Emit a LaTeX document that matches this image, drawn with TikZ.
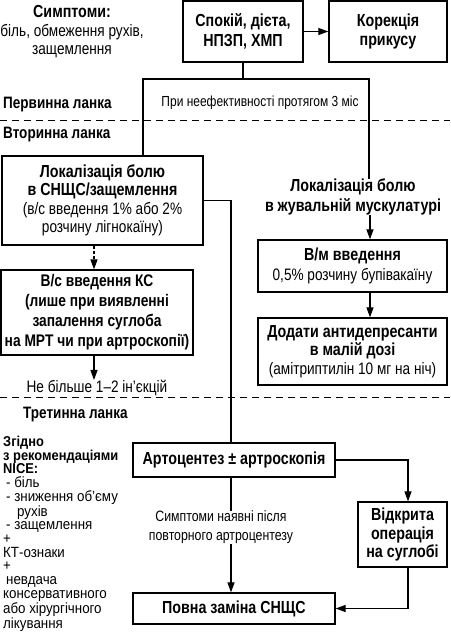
\documentclass[tikz,border=0pt]{standalone}
\usepackage{fontspec}
\setmainfont{Liberation Sans}[FakeStretch=0.82]
\newfontfamily\wfont{Liberation Sans}[FakeStretch=0.9]
\usetikzlibrary{arrows.meta}
\newcommand{\bl}{\fontsize{17.4}{19}\selectfont\bfseries}
\newcommand{\bs}{\fontsize{16.8}{19}\selectfont\bfseries}
\newcommand{\rg}{\fontsize{16.6}{18}\selectfont}
\begin{document}
\begin{tikzpicture}[x=1pt,y=-1pt,
  box/.style={draw, line width=1.3pt, inner sep=0pt, align=center},
  conn/.style={line width=1.2pt},
  arr/.style={conn, -{Triangle[length=10pt,width=7pt]}},
  sep/.style={line width=0.9pt, dash pattern=on 7pt off 5pt},
  lbl/.style={inner sep=0pt, font=\fontsize{16.5}{18}\selectfont\bfseries, anchor=west},
  txt/.style={inner sep=0pt, align=center}
]
\useasboundingbox (0,0) rectangle (450,632);

% separators
\draw[sep] (0,120) -- (450,120);
\draw[sep] (0,397) -- (450,397);

% level labels
\node[lbl] (lv1) at (3,105) {Первинна ланка};
\node[lbl] (lv2) at (3,135) {Вторинна ланка};
\node[lbl] (lv3) at (23,415) {Третинна ланка};

% symptoms
\node[txt, font=\fontsize{16.6}{18.5}\selectfont] (sym) at (72,32) {{\bl Симптоми:}\\\rg біль, обмеження рухів,\\\rg защемлення};

% boxes
\node[box, minimum width=120pt, minimum height=61pt, font=\fontsize{17.4}{20}\selectfont] (b1) at (243,31.5) {\bl Спокій, дієта,\\\bl НПЗП, ХМП};
\node[box, minimum width=118pt, minimum height=61pt, font=\fontsize{17.4}{20}\selectfont] (b2) at (388,31.5) {\bl Корекція\\\bl прикусу};

\node[txt, font=\fontsize{14.6}{16}\selectfont] (cond) at (260,103) {При неефективності протягом 3 міс};

\node[box, minimum width=201pt, minimum height=89pt, font=\fontsize{16.6}{18.5}\selectfont] (b3) at (102.5,200.5)
  {\bl Локалізація болю\\\bl в СНЩС/защемлення\\\rg (в/с введення 1\% або 2\%\\\rg розчину лігнокаїну)};

\node[box, minimum width=192pt, minimum height=85pt, font=\fontsize{16.8}{20}\selectfont] (b4) at (97,312.5)
  {\bs В/с введення КС\\\bs (лише при виявленні\\\bs запалення суглоба\\\bs на МРТ чи при артроскопії)};

\node[txt, font=\fontsize{16.6}{18}\selectfont] (lim) at (97,388) {Не більше 1–2 ін’єкцій};

\node[txt, font=\fontsize{17.4}{20}\selectfont] (loc2) at (353,197) {\bl Локалізація болю\\\bl в жувальній мускулатурі};

\node[box, minimum width=189pt, minimum height=52pt, font=\fontsize{16.6}{20}\selectfont] (b5) at (352.5,266)
  {\bl В/м введення\\\rg 0,5\% розчину бупівакаїну};

\node[box, minimum width=189pt, minimum height=67pt, font=\fontsize{16.6}{18.5}\selectfont] (b6) at (352.5,351.5)
  {\bl Додати антидепресанти\\\bl в малій дозі\\\rg (амітриптилін 10 мг на ніч)};

\node[box, minimum width=202pt, minimum height=34pt, font=\fontsize{17.4}{20}\selectfont] (b7) at (234,460) {\bl Артоцентез ± артроскопія};

\node[box, minimum width=89pt, minimum height=65pt, font=\fontsize{17.4}{18.5}\selectfont] (b8) at (402.5,534.5)
  {\bl Відкрита\\\bl операція\\\bl на суглобі};

\node[box, minimum width=202pt, minimum height=31pt, font=\fontsize{17.4}{20}\selectfont] (b9) at (234,608.5) {\bl Повна заміна СНЩС};

\node[txt, font=\fontsize{15}{19}\selectfont] (symp) at (221,527.5) {Симптоми наявні після\\повторного артроцентезу};

% NICE block
\node[inner sep=0pt, anchor=north west, align=left, font=\wfont\fontsize{14.8}{13.7}\selectfont] (nice) at (3,436)
  {\fontsize{14.3}{13.7}\selectfont\bfseries Згідно\\\fontsize{14.3}{13.7}\selectfont\bfseries з рекомендаціями\\\fontsize{14.3}{13.7}\selectfont\bfseries NICE:\\
   \hspace{3pt}- біль\\\hspace{3pt}- зниження об’єму\\\hspace{14pt}рухів\\\hspace{3pt}- защемлення\\
   +\\КТ-ознаки\\+\\\hspace{3pt}невдача\\консервативного\\або хірургічного\\лікування};

% coordinates for connector lines
\coordinate (fl) at (143,79);
\coordinate (fr) at (369,79);
\coordinate (xa) at (94,0);
\coordinate (xb) at (231,0);
\coordinate (xc) at (408,0);
\coordinate (xd) at (370,0);

% connectors
\draw[arr] (b1.east) -- (b2.west);
\draw[conn] (b1.south) -- (b1.south |- fl);
\draw[conn] (b3.north -| fl) -- (fl) -- (fr) -- (loc2.north -| fr);
\draw[arr, dash pattern=on 3pt off 2pt] (b3.south -| xa) -- (b4.north -| xa);
\draw[arr] (b4.south -| xa) -- (lim.north -| xa);
\draw[conn] (b3.east) -| (b7.north -| xb);
\draw[arr] (loc2.south -| xd) -- (b5.north -| xd);
\draw[arr] (b5.south -| xd) -- (b6.north -| xd);
\draw[arr] (b7.east) -| (b8.north -| xc);
\draw[arr] (b8.south -| xc) |- (b9.east);
\draw[conn] (b7.south -| xb) -- (symp.north -| xb);
\draw[arr] (symp.south -| xb) -- (b9.north -| xb);
\end{tikzpicture}
\end{document}
